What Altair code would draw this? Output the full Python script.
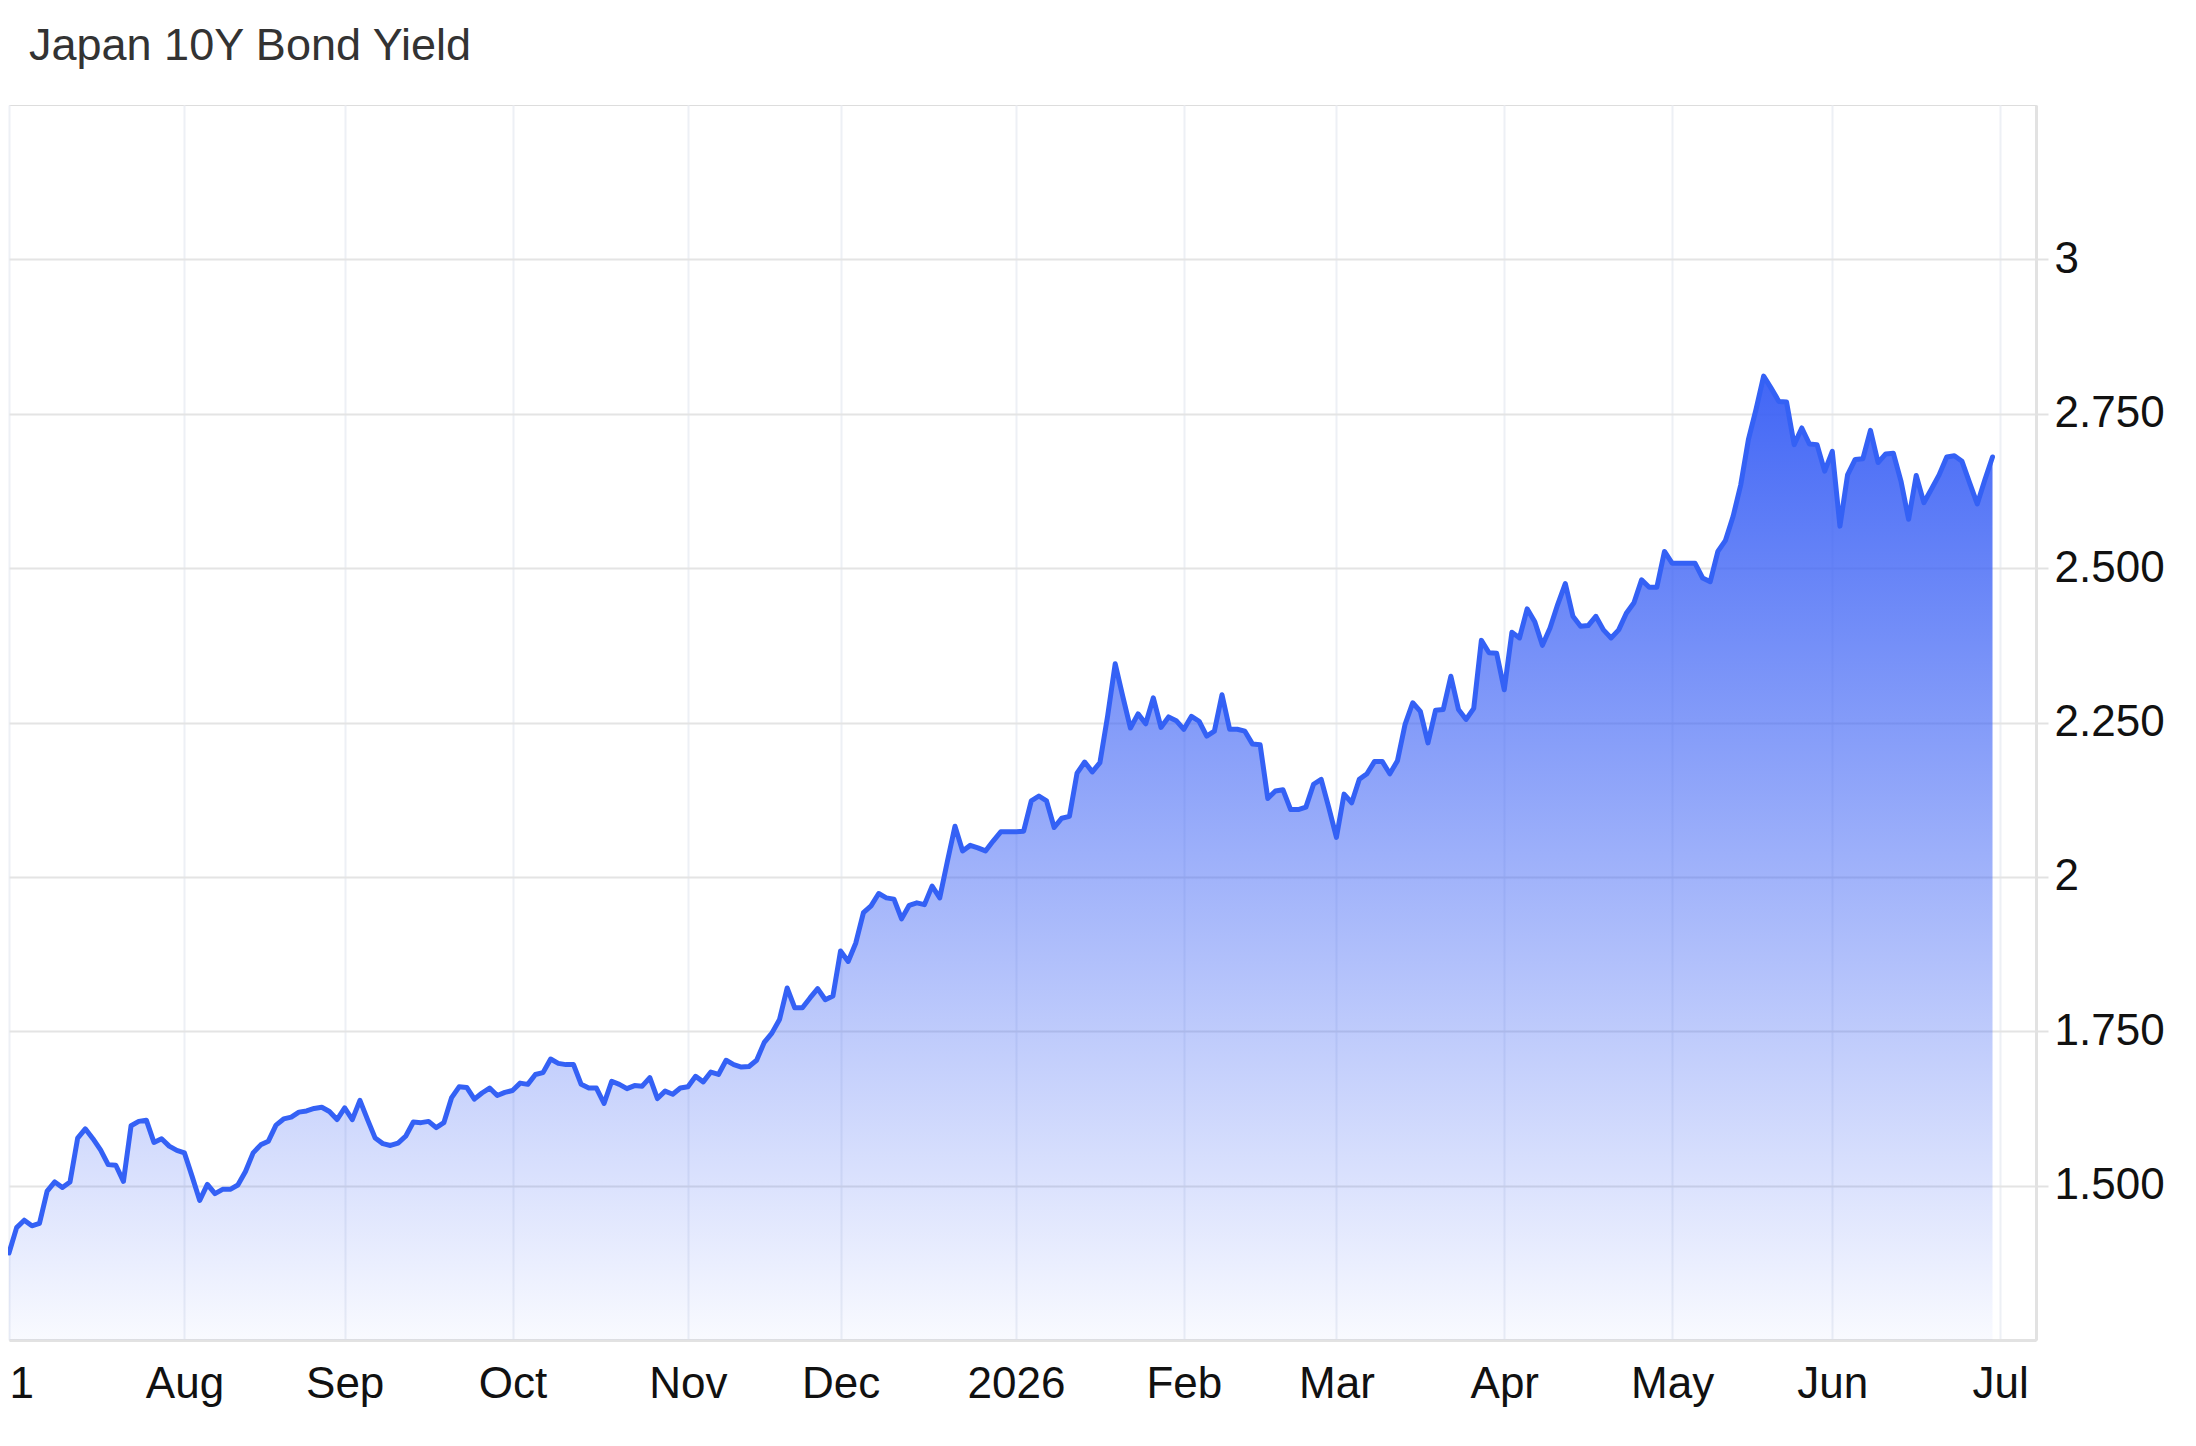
import altair as alt
import pandas as pd
import numpy as np

title_text = "Japan 10Y Bond Yield"

# Daily (weekday) closing yields, one list per month
jul_2025 = [1.391, 1.432, 1.444, 1.435, 1.439, 1.491, 1.506, 1.497, 1.506, 1.577,
            1.592, 1.576, 1.558, 1.534, 1.533, 1.507, 1.597, 1.604, 1.606, 1.570,
            1.576, 1.564, 1.557]
aug_2025 = [1.553, 1.515, 1.476, 1.502, 1.487, 1.494, 1.494, 1.501, 1.523, 1.553,
            1.566, 1.572, 1.598, 1.608, 1.611, 1.619, 1.621, 1.625, 1.627, 1.620,
            1.607]
sep_2025 = [1.626, 1.607, 1.638, 1.607, 1.577, 1.568, 1.565, 1.569, 1.580, 1.603,
            1.602, 1.604, 1.594, 1.602, 1.642, 1.660, 1.659, 1.640, 1.650, 1.658,
            1.646, 1.651]
oct_2025 = [1.654, 1.666, 1.664, 1.680, 1.683, 1.705, 1.698, 1.696, 1.696, 1.664,
            1.658, 1.658, 1.633, 1.669, 1.664, 1.657, 1.662, 1.661, 1.675, 1.641,
            1.653, 1.648, 1.658]
nov_2025 = [1.660, 1.677, 1.668, 1.684, 1.680, 1.703, 1.696, 1.692, 1.693, 1.703,
            1.732, 1.747, 1.769, 1.820, 1.788, 1.788, 1.804, 1.819, 1.801, 1.807]
dec_2025 = [1.880, 1.863, 1.893, 1.942, 1.953, 1.973, 1.966, 1.964, 1.932, 1.954,
            1.958, 1.955, 1.985, 1.966, 2.025, 2.082, 2.042, 2.051, 2.047, 2.042,
            2.058, 2.073, 2.073]
jan_2026 = [2.073, 2.074, 2.123, 2.131, 2.123, 2.080, 2.095, 2.098, 2.168, 2.186,
            2.170, 2.185, 2.260, 2.345, 2.292, 2.241, 2.264, 2.248, 2.290, 2.242,
            2.259, 2.253]
feb_2026 = [2.239, 2.260, 2.252, 2.228, 2.236, 2.295, 2.239, 2.239, 2.236, 2.215,
            2.214, 2.127, 2.139, 2.141, 2.109, 2.109, 2.113, 2.150, 2.158, 2.112]
mar_2026 = [2.064, 2.134, 2.120, 2.158, 2.167, 2.187, 2.187, 2.167, 2.188, 2.247,
            2.282, 2.268, 2.217, 2.270, 2.271, 2.325, 2.271, 2.255, 2.273, 2.383,
            2.363, 2.362]
apr_2026 = [2.303, 2.396, 2.387, 2.434, 2.413, 2.375, 2.403, 2.441, 2.475, 2.422,
            2.406, 2.407, 2.422, 2.400, 2.387, 2.400, 2.427, 2.444, 2.481, 2.469,
            2.469, 2.527]
may_2026 = [2.508, 2.508, 2.508, 2.508, 2.484, 2.478, 2.527, 2.545, 2.584, 2.635,
            2.708, 2.757, 2.811, 2.791, 2.770, 2.769, 2.700, 2.727, 2.701, 2.700,
            2.657]
jun_2026 = [2.689, 2.568, 2.651, 2.676, 2.677, 2.723, 2.671, 2.685, 2.686, 2.641,
            2.579, 2.650, 2.606, 2.628, 2.651, 2.680, 2.682, 2.673, 2.638, 2.604,
            2.643, 2.680]

months = [jul_2025, aug_2025, sep_2025, oct_2025, nov_2025, dec_2025,
          jan_2026, feb_2026, mar_2026, apr_2026, may_2026, jun_2026]
month_labels = ["1", "Aug", "Sep", "Oct", "Nov", "Dec", "2026",
                "Feb", "Mar", "Apr", "May", "Jun", "Jul"]
y_ticks = [1.5, 1.75, 2, 2.25, 2.5, 2.75, 3]
y_domain = [1.25, 3.25]

values = [v for m in months for v in m]
dates = pd.bdate_range("2025-07-01", periods=len(values))
df = pd.DataFrame({
    "i": np.arange(len(values)),
    "date": dates.strftime("%Y-%m-%d"),
    "yield": values,
})

# month-start positions on the weekday axis
tick_pos = [int(p) for p in np.cumsum([0] + [len(m) for m in months])]
x_label_expr = " : ".join(
    f"datum.value == {p} ? '{l}'" for p, l in zip(tick_pos, month_labels)
) + " : ''"
y_label_expr = "datum.value % 1 == 0 ? format(datum.value, 'd') : format(datum.value, '.3f')"

FONT = "Liberation Sans"
LINE = "#3461f5"

x_enc = alt.X(
    "i:Q",
    scale=alt.Scale(domain=[0, 265.7], nice=False, zero=False),
    axis=alt.Axis(
        values=tick_pos, labelExpr=x_label_expr, title=None,
        grid=True, gridColor="#edf0f5", gridWidth=2,
        domain=True, domainColor="#e2e2e2", domainWidth=3,
        ticks=False, tickSize=0,
        labelFont=FONT, labelFontSize=44, labelColor="#111111",
        labelBaseline="alphabetic", labelPadding=57, labelFlush=True,
    ),
)
y_enc = alt.Y(
    "yield:Q",
    scale=alt.Scale(domain=y_domain, nice=False, zero=False),
    axis=alt.Axis(
        orient="right", values=y_ticks, labelExpr=y_label_expr, title=None,
        grid=True, gridColor="#e4e4e4", gridWidth=2,
        domain=True, domainColor="#e2e2e2", domainWidth=3,
        ticks=True, tickColor="#e2e2e2", tickSize=12, tickWidth=2,
        labelFont=FONT, labelFontSize=44, labelColor="#111111",
        labelAlign="left", labelBaseline="middle", labelPadding=6,
    ),
)

gradient = alt.Gradient(
    gradient="linear",
    stops=[
        alt.GradientStop(color="rgba(58,96,245,0.03)", offset=0),
        alt.GradientStop(color="rgba(58,96,245,0.96)", offset=1),
    ],
    x1=1, x2=1, y1=1, y2=0,
)

area = alt.Chart(df).mark_area(fill=gradient, strokeWidth=0).encode(
    x=x_enc, y=y_enc, y2=alt.datum(y_domain[0])
)
line = alt.Chart(df).mark_line(
    color=LINE, strokeWidth=5, strokeJoin="round", strokeCap="round"
).encode(x=x_enc, y=y_enc, tooltip=["date:N", "yield:Q"])

chart = alt.layer(area, line).properties(
    width=2027,
    height=1235,
    title=alt.TitleParams(
        text=title_text, anchor="start", frame="group", dx=20, dy=43, offset=43,
        font=FONT, fontSize=45, fontWeight="normal", color="#333333",
        baseline="alphabetic",
    ),
    autosize=alt.AutoSizeParams(type="none"),
    padding={"left": 1, "top": 97, "right": 150, "bottom": 90},
).configure_view(stroke="#e4e4e4", strokeWidth=2).configure(background="white")

chart.save("out.html", embed_options={"renderer": "svg", "actions": False})
